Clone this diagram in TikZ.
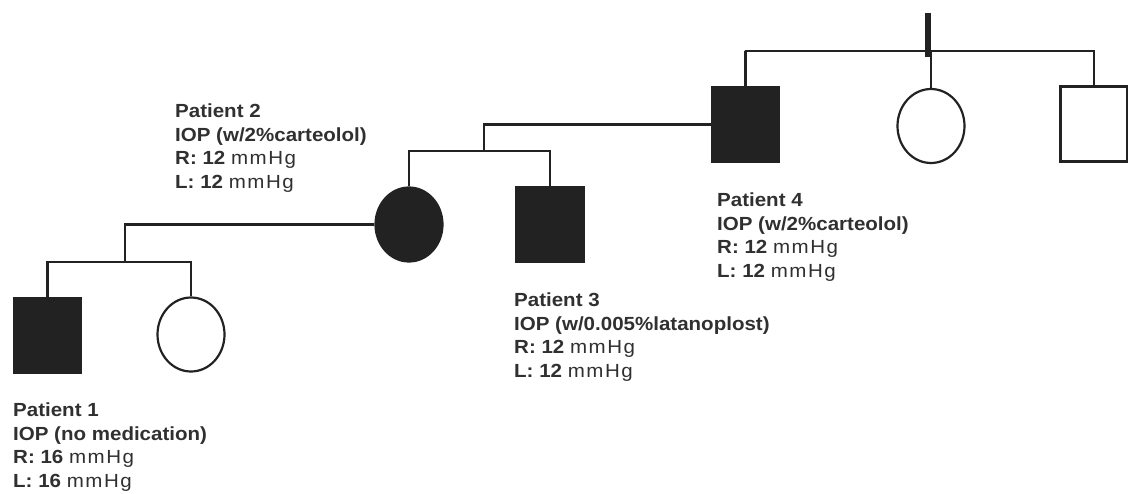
\documentclass[tikz,border=0pt]{standalone}
\usepackage{fontspec}
\setmainfont{Liberation Sans}[FakeStretch=1.08]
\usepackage{tikz}
\usetikzlibrary{shapes.geometric, positioning, calc}
\definecolor{ink}{RGB}{34, 34, 34}
\definecolor{txt}{RGB}{48, 48, 48}
\newcommand{\mmhg}{{\mdseries\addfontfeature{LetterSpace=8}mmHg}}

\begin{document}
\begin{tikzpicture}[x=1pt, y=-1pt,
    link/.style={draw=ink, line width=2.2pt},
    male/.style={rectangle, link, minimum width=67pt, minimum height=75pt, inner sep=0pt},
    female/.style={ellipse, link, minimum width=67pt, minimum height=74pt, inner sep=0pt},
    affected/.style={fill=ink},
    ptext/.style={anchor=base west, inner sep=0pt, align=left, text=txt,
        font=\fontsize{19}{23.5}\selectfont\bfseries}]
    \useasboundingbox (0,0) rectangle (1128,493);

    % First generation
    \node[rectangle, fill=ink, minimum width=6pt, minimum height=44pt, inner sep=0pt] (top) at (928,35) {};
    \node[male, affected] (p4) at (745.5,124.5) {};
    \node[female] (p4s) at (931,126) {};
    \node[male] (p4b) at (1094,124) {};
    \coordinate (sibA) at (745,51);
    \draw[link] (p4.north) |- (sibA) -| (p4b.north);
    \draw[link] (p4s.north) -- (p4s.north |- sibA);

    % Second generation
    \node[female, affected] (p2) at (409,224.5) {};
    \node[male, affected] (p3) at (550,224.5) {};
    \coordinate (sibB) at (484,151);
    \draw[link] (p4.west) -| (sibB);
    \draw[link] (p2.north) |- (sibB) -| (p3.north);

    % Third generation
    \node[male, affected] (p1) at (47.5,335.5) {};
    \node[female] (p1w) at (191,334.5) {};
    \coordinate (sibC) at (125,262);
    \draw[link] (p2.west) -| (sibC);
    \draw[link] (p1.north) |- (sibC) -| (p1w.north);

    % IOP values (anchored at last baseline)
    \foreach \n/\x/\y/\drug/\val in {1/13/487/{no medication}/16, 2/175/188/{w/2\%carteolol}/12,
        3/514/377/{w/0.005\%latanoplost}/12, 4/717/277/{w/2\%carteolol}/12} {
        \node[ptext] (lab\n) at (\x,\y) {Patient \n\\IOP (\drug)\\R: \val\ \mmhg\\L: \val\ \mmhg};
    }
\end{tikzpicture}
\end{document}
